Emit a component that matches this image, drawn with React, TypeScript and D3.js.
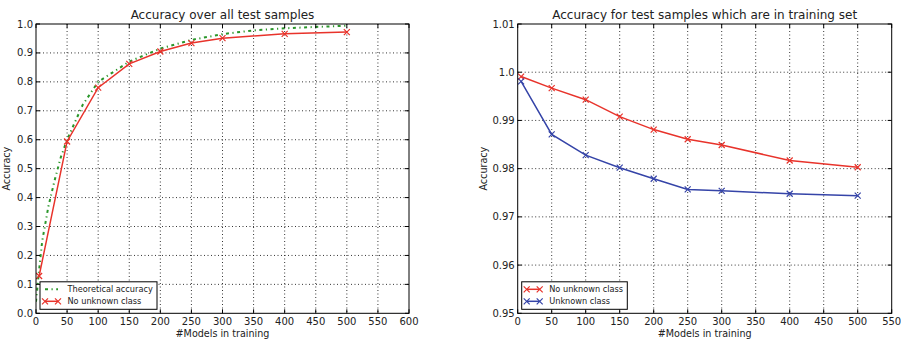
import * as d3 from "d3";

// left panel: accuracy over all test samples
const theoX = [0, 5, 10, 20, 30, 40, 50, 75, 100, 150, 200, 250, 300, 350, 400, 450, 500];
const theoAcc = [0.04, 0.15, 0.25, 0.37, 0.46, 0.54, 0.6, 0.72, 0.8, 0.87, 0.915, 0.945, 0.965, 0.978, 0.985, 0.99, 0.994];
const modelsX = [5, 50, 100, 150, 200, 250, 300, 400, 500];
const allNoUnknown = [0.129, 0.594, 0.78, 0.862, 0.905, 0.934, 0.951, 0.966, 0.972];

// right panel: accuracy for samples in training set
const trainNoUnknown = [0.9991, 0.9967, 0.9943, 0.9908, 0.9881, 0.9861, 0.9849, 0.9817, 0.9803];
const trainUnknown = [0.9981, 0.9871, 0.9828, 0.9802, 0.9779, 0.9757, 0.9754, 0.9748, 0.9744];

const leftXTicks = d3.range(0, 601, 50);
const leftYTicks = d3.range(0, 11).map((d) => d / 10);
const rightXTicks = d3.range(0, 551, 50);
const rightYTicks = [0.95, 0.96, 0.97, 0.98, 0.99, 1.0, 1.01];
const rightYLabels = ["0.95", "0.96", "0.97", "0.98", "0.99", "1.0", "1.01"];

const RED = "#e8332b";
const BLUE = "#3544a8";
const GREEN = "#2a962a";
const FONT = "DejaVu Sans, sans-serif";

type Series = {
  xs: number[];
  ys: number[];
  color: string;
  dash?: string;
  width: number;
  marker: boolean;
  label: string;
};

type PanelProps = {
  x0: number;
  x1: number;
  y0: number;
  y1: number;
  xDomain: [number, number];
  yDomain: [number, number];
  xTicks: number[];
  yTicks: number[];
  yLabels: string[];
  title: string;
  series: Series[];
  yLabelX: number;
  legendW: number;
};

const Marker = ({ x, y, color }: { x: number; y: number; color: string }) => (
  <path
    d={`M${x - 3},${y - 3}L${x + 3},${y + 3}M${x - 3},${y + 3}L${x + 3},${y - 3}`}
    stroke={color}
    strokeWidth={1.2}
  />
);

const Panel = (p: PanelProps) => {
  const x = d3.scaleLinear().domain(p.xDomain).range([p.x0, p.x1]);
  const y = d3.scaleLinear().domain(p.yDomain).range([p.y1, p.y0]);
  const line = d3
    .line<[number, number]>()
    .x((d) => x(d[0]))
    .y((d) => y(d[1]));
  const cx = (p.x0 + p.x1) / 2;
  const lgX = p.x0 + 4;
  const lgY = p.y1 - 31.5;
  return (
    <g fontFamily={FONT}>
      <defs>
        <clipPath id={`clip${p.x0}`}>
          <rect x={p.x0} y={p.y0} width={p.x1 - p.x0} height={p.y1 - p.y0} />
        </clipPath>
      </defs>
      <rect x={p.x0} y={p.y0} width={p.x1 - p.x0} height={p.y1 - p.y0} fill="white" />
      {/* grid */}
      {p.xTicks.slice(1, -1).map((t) => (
        <line key={"gx" + t} x1={x(t)} x2={x(t)} y1={p.y0} y2={p.y1} stroke="#000" strokeWidth={0.8} strokeDasharray="1,2.5" />
      ))}
      {p.yTicks.slice(1, -1).map((t) => (
        <line key={"gy" + t} x1={p.x0} x2={p.x1} y1={y(t)} y2={y(t)} stroke="#000" strokeWidth={0.8} strokeDasharray="1,2.5" />
      ))}
      {/* data */}
      <g clipPath={`url(#clip${p.x0})`}>
        {p.series.map((s) => (
          <g key={s.label}>
            <path
              d={line(s.xs.map((v, i) => [v, s.ys[i]]) as [number, number][]) || ""}
              fill="none"
              stroke={s.color}
              strokeWidth={s.width}
              strokeDasharray={s.dash}
            />
            {s.marker && s.xs.map((v, i) => <Marker key={i} x={x(v)} y={y(s.ys[i])} color={s.color} />)}
          </g>
        ))}
      </g>
      {/* ticks, inward on all sides */}
      {p.xTicks.map((t) => (
        <g key={"tx" + t}>
          <line x1={x(t)} x2={x(t)} y1={p.y1} y2={p.y1 - 4} stroke="#000" />
          <line x1={x(t)} x2={x(t)} y1={p.y0} y2={p.y0 + 4} stroke="#000" />
          <text x={x(t)} y={p.y1 + 11.5} fontSize={10} textAnchor="middle" fill="#222">
            {t}
          </text>
        </g>
      ))}
      {p.yTicks.map((t, i) => (
        <g key={"ty" + t}>
          <line x1={p.x0} x2={p.x0 + 4} y1={y(t)} y2={y(t)} stroke="#000" />
          <line x1={p.x1} x2={p.x1 - 4} y1={y(t)} y2={y(t)} stroke="#000" />
          <text x={p.x0 - 3} y={y(t) + 3.5} fontSize={10} textAnchor="end" fill="#222">
            {p.yLabels[i]}
          </text>
        </g>
      ))}
      <rect x={p.x0} y={p.y0} width={p.x1 - p.x0} height={p.y1 - p.y0} fill="none" stroke="#000" strokeWidth={1} />
      <text x={cx} y={p.y0 - 5} fontSize={12} textAnchor="middle" fill="#222">
        {p.title}
      </text>
      <text x={cx} y={p.y1 + 23.5} fontSize={9.6} textAnchor="middle" fill="#222">
        #Models in training
      </text>
      <text
        transform={`translate(${p.yLabelX},${(p.y0 + p.y1) / 2}) rotate(-90)`}
        fontSize={9.6}
        textAnchor="middle"
        fill="#222"
      >
        Accuracy
      </text>
      {/* legend */}
      <g transform={`translate(${lgX},${lgY})`}>
        <rect x={0} y={0} width={p.legendW} height={27.5} fill="white" stroke="#000" strokeWidth={1} />
        {p.series.map((s, i) => {
          const ly = 7.5 + i * 12;
          return (
            <g key={"lg" + s.label}>
              <line x1={5} x2={18} y1={ly} y2={ly} stroke={s.color} strokeWidth={s.width} strokeDasharray={s.dash} />
              {s.marker && (
                <>
                  <Marker x={5} y={ly} color={s.color} />
                  <Marker x={18} y={ly} color={s.color} />
                </>
              )}
              <text x={27.5} y={ly + 3} fontSize={8.2} fill="#222">
                {s.label}
              </text>
            </g>
          );
        })}
      </g>
    </g>
  );
};

export default function App() {
  return (
    <svg width={901} height={341} style={{ position: "absolute", left: 0, top: 0, background: "white" }}>
      <Panel
        x0={36}
        x1={409}
        y0={24}
        y1={313.3}
        xDomain={[0, 600]}
        yDomain={[0, 1]}
        xTicks={leftXTicks}
        yTicks={leftYTicks}
        yLabels={leftYTicks.map((d) => d.toFixed(1))}
        title="Accuracy over all test samples"
        yLabelX={10}
        legendW={117}
        series={[
          { xs: theoX, ys: theoAcc, color: GREEN, dash: "3,3.5,1.2,3.5", width: 2, marker: false, label: "Theoretical accuracy" },
          { xs: modelsX, ys: allNoUnknown, color: RED, width: 1.5, marker: true, label: "No unknown class" },
        ]}
      />
      <Panel
        x0={517.7}
        x1={891.7}
        y0={24}
        y1={313.3}
        xDomain={[0, 550]}
        yDomain={[0.95, 1.01]}
        xTicks={rightXTicks}
        yTicks={rightYTicks}
        yLabels={rightYLabels}
        title="Accuracy for test samples which are in training set"
        yLabelX={487}
        legendW={105.6}
        series={[
          { xs: modelsX, ys: trainNoUnknown, color: RED, width: 1.5, marker: true, label: "No unknown class" },
          { xs: modelsX, ys: trainUnknown, color: BLUE, width: 1.5, marker: true, label: "Unknown class" },
        ]}
      />
    </svg>
  );
}
